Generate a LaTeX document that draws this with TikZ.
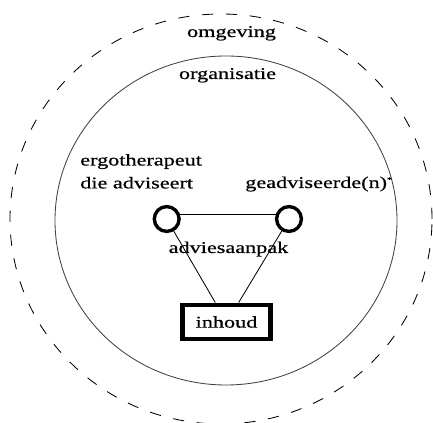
\documentclass[tikz,border=0pt]{standalone}
\usepackage{fontspec}
\newfontfamily\diagfont[FakeStretch=1.35,FakeBold=0.6]{Liberation Serif}
\usetikzlibrary{positioning}

\begin{document}
\begin{tikzpicture}[
  party/.style={circle, draw=black, line width=2.4pt, minimum size=6.2mm, inner sep=0pt},
  lbl/.style={inner sep=0pt, font=\diagfont\fontsize{11.7}{16.3}\selectfont}]
  \useasboundingbox (0,0) rectangle (10.825,10.575);

  \draw[dash pattern=on 8pt off 9pt, line width=0.6pt] (5.525,5.1) ellipse [x radius=5.275, y radius=5.125];
  \draw[line width=0.6pt, black!75] (5.65,5.0625) ellipse [x radius=4.275, y radius=4.1125];

  \node (omg) [lbl, anchor=base] at (5.7875,9.65) {omgeving};
  \node (org) [lbl, anchor=base] at (5.6875,8.6) {organisatie};
  \node (ergo) [lbl, anchor=north west, align=left] at (2.0,6.73) {ergotherapeut\\die adviseert};
  \node (gead) [lbl, anchor=base west] at (6.125,5.875) {geadviseerde(n)\textsuperscript{\tiny *}};
  \node (aanpak) [lbl, anchor=base] at (5.7125,4.25) {adviesaanpak};

  \node (lc) [party] at (4.1675,5.1) {};
  \node (rc) [party] at (7.225,5.1) {};
  \node (inh) [lbl, draw=black, line width=3.5pt, minimum width=2.2cm, minimum height=0.85cm] at (5.6625,2.525) {inhoud};

  \path [-] [line width=0.6pt]
  (lc.20) edge (rc.160)
  (lc) edge (inh.120)
  (rc) edge (inh.58);
\end{tikzpicture}
\end{document}
